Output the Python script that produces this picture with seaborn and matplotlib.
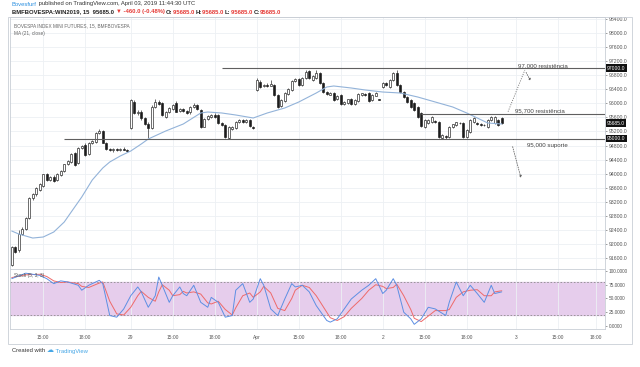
import numpy as np
import pandas as pd
import matplotlib
matplotlib.use("Agg")
import matplotlib.pyplot as plt
import seaborn as sns
from matplotlib.patches import Rectangle

# 15 min candles, WIN mini index futures
opens = [91405, 91920, 91830, 92285, 92430, 92740, 93310, 93420, 93540, 93650,
         93990, 93820, 93905, 93820, 93960, 94075, 94275, 94330, 94590, 94300,
         94730, 94820, 94560, 94870, 94900, 95155, 95200, 94875, 94700, 94660,
         94690, 94670, 94700, 94680,
         95300, 96050, 95730, 95760, 95570, 95420, 95300, 95900, 96040, 96000,
         95620, 95760, 95850, 96000, 95780, 95830, 95780, 95740, 95900, 95960,
         95800, 95340, 95560, 95600, 95680, 95680, 95450, 95390, 95020, 95270,
         95300, 95480, 95520, 95460, 95520, 95330,
         96380, 96610, 96480, 96530, 96500, 96530, 96240, 95920, 96060, 96260,
         96380, 96620, 96680, 96520, 96720, 96930, 96660, 96720, 96860, 96580,
         96320, 96250, 96280, 96120, 96230, 95990, 96000, 96130, 95980, 96060,
         96230, 96270, 96280, 96080, 96220, 96110,
         96465, 96570, 96465, 96660, 96860, 96520, 96320, 96180, 96090, 96010,
         95895, 95725, 95330, 95440, 95470, 95500, 95470, 95015, 95060, 95045,
         95330, 95385, 95450, 95440, 95045, 95185, 95470, 95440, 95400, 95390,
         95330, 95525, 95440, 95525, 95585]
highs = [91950, 91960, 92400, 92480, 92760, 93340, 93460, 93620, 93740, 94000,
         94030, 93930, 93960, 94010, 94100, 94280, 94390, 94600, 94620, 94760,
         94820, 94870, 94900, 94960, 95180, 95260, 95230, 94900, 94740, 94720,
         94730, 94720, 94760, 94710,
         96120, 96100, 95820, 95800, 95600, 95470, 95950, 96120, 96080, 96040,
         95790, 95890, 95990, 96060, 95860, 95860, 95810, 95930, 96000, 95990,
         95840, 95590, 95670, 95710, 95720, 95710, 95480, 95420, 95350, 95360,
         95510, 95550, 95560, 95560, 95550, 95360,
         96720, 96650, 96560, 96570, 96650, 96560, 96270, 96130, 96330, 96430,
         96650, 96730, 96710, 96760, 96960, 96960, 96800, 96940, 96890, 96600,
         96350, 96320, 96310, 96250, 96260, 96070, 96130, 96160, 96110, 96290,
         96300, 96300, 96310, 96260, 96330, 96120,
         96600, 96600, 96690, 96890, 96960, 96540, 96350, 96210, 96120, 96030,
         95920, 95750, 95550, 95550, 95640, 95540, 95500, 95130, 95090, 95350,
         95420, 95480, 95470, 95470, 95260, 95550, 95600, 95460, 95430, 95410,
         95550, 95630, 95640, 95550, 95610]
lows = [91380, 91740, 91780, 92250, 92400, 92700, 93250, 93380, 93500, 93620,
        93800, 93780, 93770, 93800, 93940, 94050, 94240, 94300, 94230, 94280,
        94700, 94500, 94530, 94840, 94880, 95120, 94860, 94680, 94640, 94630,
        94650, 94640, 94660, 94620,
        95280, 95700, 95680, 95540, 95380, 95010, 95260, 95870, 95960, 95640,
        95590, 95730, 95820, 95740, 95750, 95750, 95690, 95710, 95870, 95800,
        95310, 95320, 95530, 95580, 95590, 95410, 95350, 95010, 94990, 95240,
        95280, 95450, 95450, 95440, 95320, 95280,
        96350, 96440, 96450, 96470, 96480, 96210, 95870, 95890, 96040, 96240,
        96350, 96600, 96490, 96500, 96700, 96690, 96640, 96700, 96550, 96300,
        96230, 96230, 96070, 96100, 95950, 95960, 95980, 95940, 95960, 96040,
        96210, 96220, 96040, 96060, 96200, 96080,
        96440, 96500, 96440, 96640, 96490, 96290, 96150, 96010, 95870, 95790,
        95580, 95330, 95300, 95410, 95450, 95440, 95020, 94980, 95000, 95020,
        95300, 95360, 95410, 95020, 95020, 95170, 95450, 95390, 95360, 95350,
        95300, 95500, 95420, 95360, 95420]
closes = [91920, 91775, 92285, 92430, 92740, 93310, 93420, 93595, 93710, 93990,
          93820, 93905, 93795, 93990, 94075, 94275, 94360, 94560, 94250, 94730,
          94790, 94530, 94870, 94930, 95155, 95210, 94875, 94700, 94660, 94690,
          94670, 94700, 94680, 94650,
          96095, 95730, 95760, 95570, 95410, 95300, 95900, 96040, 95990, 95670,
          95760, 95860, 95950, 95760, 95830, 95780, 95720, 95900, 95960, 95830,
          95340, 95560, 95640, 95680, 95620, 95440, 95380, 95040, 95320, 95330,
          95480, 95520, 95480, 95530, 95350, 95300,
          96660, 96470, 96530, 96500, 96550, 96240, 95900, 96100, 96300, 96400,
          96620, 96690, 96520, 96720, 96900, 96720, 96780, 96860, 96580, 96320,
          96260, 96290, 96100, 96220, 95980, 96040, 96110, 95970, 96090, 96260,
          96280, 96240, 96060, 96230, 96300, 96100,
          96580, 96530, 96660, 96860, 96520, 96320, 96180, 96040, 95895, 95810,
          95610, 95355, 95525, 95525, 95610, 95470, 95045, 95100, 95040, 95325,
          95400, 95470, 95440, 95045, 95240, 95525, 95585, 95410, 95385, 95385,
          95525, 95610, 95610, 95385, 95440]

# MA (21, close) at some bars
ma_bars = [0, 2, 6, 9, 12, 15, 17, 20, 23, 26, 28, 31, 34, 37, 39, 44, 49, 54, 56,
           60, 64, 69, 73, 78, 82, 87, 90, 92, 97, 101, 106, 111, 116, 121, 126,
           130, 133, 136, 140]
ma_values = [92372, 92287, 92173, 92202, 92344, 92628, 92913, 93338, 93821, 94162,
             94333, 94503, 94645, 94844, 94986, 95214, 95412, 95725, 95753, 95725,
             95668, 95583, 95725, 95867, 96037, 96293, 96463, 96492, 96435, 96378,
             96321, 96293, 96179, 96037, 95895, 95725, 95583, 95441, 95412]

# Stoch (5, 3, 3)
stoch_bars = [0, 4, 8, 10, 12, 14, 16, 19, 20, 22, 25, 26, 28, 30, 32, 34, 36, 37,
              39, 41, 42, 43, 45, 46, 48, 49, 50, 52, 54, 56, 57, 59, 61, 63, 64,
              66, 68, 69, 71, 72, 74, 76, 78, 80, 81, 83, 85, 87, 90, 91, 93, 95,
              97, 100, 102, 104, 106, 107, 109, 110, 112, 114, 115, 117, 119, 121,
              124, 125, 127, 129, 131, 133, 135, 137, 138, 140]
stoch_k = [86, 96, 92, 86, 77, 82, 80, 74, 65, 74, 83, 77, 19, 16, 31, 55, 71, 62,
           34, 55, 89, 74, 43, 55, 71, 59, 55, 74, 43, 34, 52, 43, 16, 19, 65,
           77, 43, 49, 86, 74, 31, 19, 49, 77, 71, 74, 62, 37, 10, 7, 13, 31,
           49, 65, 74, 86, 59, 65, 86, 74, 25, 13, 3, 13, 34, 31,
           19, 43, 80, 55, 74, 59, 43, 74, 59, 62]
stoch_d = [88, 93, 94, 90, 82, 79, 80, 77, 72, 70, 78, 80, 45, 22, 20, 34, 55, 63,
           52, 45, 62, 75, 65, 55, 57, 63, 60, 62, 58, 42, 40, 45, 30, 20, 33,
           55, 60, 52, 62, 72, 60, 32, 28, 50, 65, 74, 70, 55, 25, 15, 10, 17,
           32, 50, 65, 75, 72, 68, 70, 76, 55, 30, 14, 8, 18, 28,
           28, 30, 52, 62, 65, 66, 55, 55, 62, 64]

time_labels = ["15:00", "18:00", "29", "15:00", "18:00", "Apr", "15:00", "18:00",
               "2", "15:00", "18:00", "3", "15:00", "18:00"]
price_ticks = list(range(91600, 98401, 400))
stoch_ticks = [0, 25, 50, 75, 100]

levels = [97000, 95700, 95000]
level_texts = ["97,000 resistência", "95,700 resistência", "95,000 suporte"]

W, H = 640, 367


def fx(px):
    return px / W


def fy(py):
    return 1 - py / H


sns.set_theme(style="white")
plt.rcParams["font.family"] = ["Liberation Sans", "DejaVu Sans"]

fig = plt.figure(figsize=(6.4, 3.67), dpi=100)
fig.patch.set_facecolor("white")
ax = fig.add_axes([fx(10), fy(269), fx(595), 252 / H])
axs = fig.add_axes([fx(10), fy(329), fx(595), 60 / H], sharex=ax)

grid_c = "#edf0f4"
frame_c = "#c9ced6"
text_c = "#555555"
candle_c = "#1c1c1c"

# grid at the time ticks (bar positions of the labels)
tick_pos = [9, 21, 34, 46, 58, 70, 82, 94, 106, 118, 130, 144, 156, 167]

bars = pd.DataFrame({"open": opens, "high": highs, "low": lows, "close": closes})
bars["idx"] = np.arange(len(bars))
up = bars["close"] >= bars["open"]

ax.vlines(bars["idx"], bars["low"], bars["high"], color=candle_c, lw=0.45, zorder=2)
ax.bar(bars["idx"], (bars["close"] - bars["open"]).abs(),
       bottom=bars[["open", "close"]].min(axis=1), width=0.62,
       color=np.where(up, "white", candle_c), edgecolor=candle_c,
       linewidth=0.45, zorder=3)

sns.lineplot(x=ma_bars, y=ma_values, ax=ax, color="#93b3d9", linewidth=0.8,
             zorder=4, legend=False)

# support / resistance drawings
level_from = [60, 117, 15]
for lv, start in zip(levels, level_from):
    ax.hlines(lv, start, 169.5, color="#5f5f5f", lw=0.8, zorder=5)

ax.text(144.7, 97075, level_texts[0], fontsize=4.4, color="#444", va="center")
ax.text(143.8, 95790, level_texts[1], fontsize=4.4, color="#444", va="center")
ax.text(147.2, 94790, level_texts[2], fontsize=4.4, color="#444", va="center")

dot = dict(color="#666", lw=0.6, linestyle=(0, (1.2, 1.6)))
ax.plot([141.8, 146.6], [95762, 96946], **dot)
ax.annotate("", xy=(148.6, 96568), xytext=(146.6, 96946),
            arrowprops=dict(arrowstyle="-|>", color="#666", lw=0.6,
                            linestyle=(0, (1.2, 1.6)), mutation_scale=3))
ax.annotate("", xy=(145.7, 93804), xytext=(142.9, 94844),
            arrowprops=dict(arrowstyle="-|>", color="#666", lw=0.6,
                            linestyle=(0, (1.2, 1.6)), mutation_scale=3))

ax.set_xlim(-0.5, 169.5)
ax.set_ylim(91293, 98452)
ax.set_xticks(tick_pos)
ax.tick_params(axis="x", length=0, labelbottom=False)
ax.yaxis.tick_right()
ax.set_yticks(price_ticks)
ax.set_yticklabels([f"{v:.1f}" for v in price_ticks])
ax.tick_params(axis="y", labelsize=3.7, colors=text_c, length=1.5, width=0.4, pad=1)
ax.grid(True, color=grid_c, lw=0.6)
ax.set_axisbelow(True)
for s in ax.spines.values():
    s.set_color(frame_c)
    s.set_linewidth(0.6)

# price scale boxes
for lv, lab in [(97000, "97000.0"), (95440, "95685.0"), (95000, "95000.0")]:
    ax.text(1.003, lv, lab, transform=ax.get_yaxis_transform(), fontsize=3.6,
            color="white", va="center", ha="left",
            bbox=dict(boxstyle="square,pad=0.25", fc="#111", ec="none"))

ax.text(0.006, 0.965, "BOVESPA INDEX MINI FUTURES, 15, BMFBOVESPA", transform=ax.transAxes,
        fontsize=3.4, color="#666", va="center")
ax.text(0.006, 0.935, "MA (21, close)", transform=ax.transAxes, fontsize=3.4,
        color="#666", va="center")

# stochastic pane
axs.axhspan(20, 80, color="#e6cdec", zorder=0)
axs.axhline(80, color="#8c8c8c", lw=0.6, ls=(0, (2, 2)))
axs.axhline(20, color="#8c8c8c", lw=0.6, ls=(0, (2, 2)))
sns.lineplot(x=stoch_bars, y=stoch_d, ax=axs, color="#ee6a6a", linewidth=0.7, legend=False)
sns.lineplot(x=stoch_bars, y=stoch_k, ax=axs, color="#5d8fe3", linewidth=0.7, legend=False)
axs.set_ylim(-5.5, 103.6)
axs.yaxis.tick_right()
axs.set_yticks(stoch_ticks)
axs.set_yticklabels([f"{v:.4f}" for v in stoch_ticks])
axs.tick_params(axis="y", labelsize=3.4, colors=text_c, length=1.5, width=0.4, pad=1)
axs.set_xticks(tick_pos)
axs.set_xticklabels(time_labels)
axs.tick_params(axis="x", labelsize=3.5, colors=text_c, length=0, pad=4)
axs.grid(True, axis="x", color=grid_c, lw=0.6)
axs.set_axisbelow(True)
for s in axs.spines.values():
    s.set_color(frame_c)
    s.set_linewidth(0.6)
axs.text(0.006, 0.9, "Stoch (5, 3, 3)", transform=axs.transAxes, fontsize=3.4,
         color="#555", va="center")

# outer frame
fig.add_artist(Rectangle((fx(8), fy(344)), fx(624), 327 / H, transform=fig.transFigure,
                         fill=False, ec=frame_c, lw=0.6))

# header
t = fig.text(fx(12), fy(4), "Bovesfurf", fontsize=4.2, color="#2a8fe0", va="center")
ax.annotate(" published on TradingView.com, April 03, 2019 11:44:30 UTC",
            xy=(1, 0.5), xycoords=t, fontsize=4.2, color="#333", va="center",
            annotation_clip=False)
prev = fig.text(fx(12), fy(12), "BMFBOVESPA:WIN2019, 15  95685.0 ", fontsize=4.2,
                color="#222", va="center", fontweight="bold")
parts = [("▼ -460.0 (-0.48%) ", "#e53935"), ("O:", "#222"), ("95685.0 ", "#e53935"),
         ("H:", "#222"), ("95685.0 ", "#e53935"), ("L:", "#222"), ("95685.0 ", "#e53935"),
         ("C:", "#222"), ("95685.0", "#e53935")]
for txt, col in parts:
    prev = ax.annotate(txt, xy=(1, 0.5), xycoords=prev, fontsize=4.2, color=col,
                       va="center", fontweight="bold", annotation_clip=False)

# footer
f = fig.text(fx(12), fy(351), "Created with ", fontsize=4.2, color="#333", va="center")
f = ax.annotate("☁", xy=(1, 0.5), xycoords=f, fontsize=5, color="#45a6e6",
                va="center", annotation_clip=False)
ax.annotate(" TradingView", xy=(1, 0.5), xycoords=f, fontsize=4.2, color="#45a6e6",
            va="center", annotation_clip=False)

fig.savefig("out.png", dpi=100, facecolor="white")
